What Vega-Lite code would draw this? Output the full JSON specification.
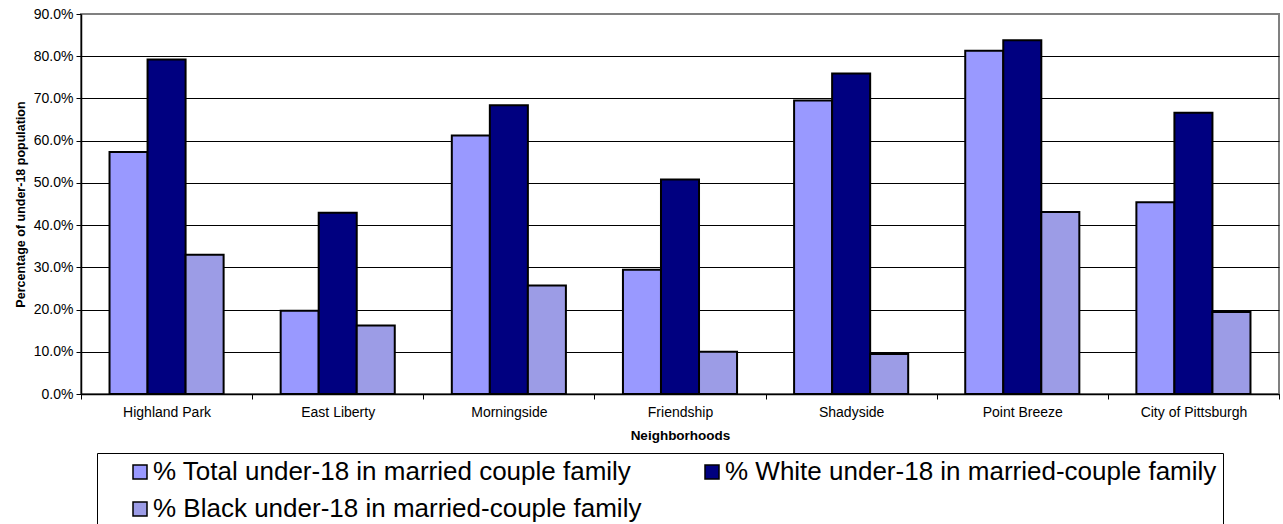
{
  "$schema": "https://vega.github.io/schema/vega-lite/v6.json",
  "width": 1198,
  "height": 380,
  "autosize": {"type": "none"},
  "padding": {"left": 81, "top": 14, "right": 4, "bottom": 130},
  "background": "white",
  "config": {
    "font": "Liberation Sans",
    "view": {"stroke": "#808080", "strokeWidth": 2}
  },
  "data": {
    "values": [
      {"neighborhood": "Highland Park", "series": "% Total under-18 in married couple family", "value": 0.573},
      {"neighborhood": "Highland Park", "series": "% White under-18 in married-couple family", "value": 0.792},
      {"neighborhood": "Highland Park", "series": "% Black under-18 in married-couple family", "value": 0.330},
      {"neighborhood": "East Liberty", "series": "% Total under-18 in married couple family", "value": 0.197},
      {"neighborhood": "East Liberty", "series": "% White under-18 in married-couple family", "value": 0.429},
      {"neighborhood": "East Liberty", "series": "% Black under-18 in married-couple family", "value": 0.162},
      {"neighborhood": "Morningside", "series": "% Total under-18 in married couple family", "value": 0.612},
      {"neighborhood": "Morningside", "series": "% White under-18 in married-couple family", "value": 0.684},
      {"neighborhood": "Morningside", "series": "% Black under-18 in married-couple family", "value": 0.257},
      {"neighborhood": "Friendship", "series": "% Total under-18 in married couple family", "value": 0.294},
      {"neighborhood": "Friendship", "series": "% White under-18 in married-couple family", "value": 0.508},
      {"neighborhood": "Friendship", "series": "% Black under-18 in married-couple family", "value": 0.100},
      {"neighborhood": "Shadyside", "series": "% Total under-18 in married couple family", "value": 0.695},
      {"neighborhood": "Shadyside", "series": "% White under-18 in married-couple family", "value": 0.759},
      {"neighborhood": "Shadyside", "series": "% Black under-18 in married-couple family", "value": 0.095},
      {"neighborhood": "Point Breeze", "series": "% Total under-18 in married couple family", "value": 0.813},
      {"neighborhood": "Point Breeze", "series": "% White under-18 in married-couple family", "value": 0.838},
      {"neighborhood": "Point Breeze", "series": "% Black under-18 in married-couple family", "value": 0.431},
      {"neighborhood": "City of Pittsburgh", "series": "% Total under-18 in married couple family", "value": 0.454},
      {"neighborhood": "City of Pittsburgh", "series": "% White under-18 in married-couple family", "value": 0.666},
      {"neighborhood": "City of Pittsburgh", "series": "% Black under-18 in married-couple family", "value": 0.194}
    ]
  },
  "mark": {"type": "bar", "stroke": "black", "strokeWidth": 2},
  "encoding": {
    "x": {
      "field": "neighborhood",
      "type": "nominal",
      "sort": ["Highland Park", "East Liberty", "Morningside", "Friendship", "Shadyside", "Point Breeze", "City of Pittsburgh"],
      "scale": {"paddingInner": 0, "paddingOuter": 0},
      "axis": {
        "title": "Neighborhoods",
        "labelAngle": 0,
        "labelFontSize": 14,
        "labelColor": "black",
        "titleFontSize": 13.5,
        "titleFontWeight": "bold",
        "titleColor": "black",
        "domainColor": "black",
        "domainWidth": 1.5,
        "tickColor": "black",
        "tickSize": 5,
        "tickBand": "extent",
        "labelPadding": 6,
        "titlePadding": 9,
        "grid": false
      }
    },
    "xOffset": {
      "field": "series",
      "type": "nominal",
      "sort": ["% Total under-18 in married couple family", "% White under-18 in married-couple family", "% Black under-18 in married-couple family"],
      "scale": {"paddingInner": 0, "paddingOuter": 0.75}
    },
    "y": {
      "field": "value",
      "type": "quantitative",
      "scale": {"domain": [0, 0.9], "nice": false},
      "axis": {
        "title": "Percentage of under-18 population",
        "format": ".1%",
        "values": [0, 0.1, 0.2, 0.3, 0.4, 0.5, 0.6, 0.7, 0.8, 0.9],
        "labelFontSize": 14,
        "labelColor": "black",
        "titleFontSize": 12.5,
        "titleFontWeight": "bold",
        "titleColor": "black",
        "titlePadding": 6,
        "domainColor": "black",
        "domainWidth": 1.5,
        "tickColor": "black",
        "tickSize": 5,
        "labelPadding": 3,
        "gridColor": "black",
        "gridWidth": 1,
        "gridOpacity": {"condition": {"test": "datum.value >= 0.85", "value": 0}, "value": 1}
      }
    },
    "color": {
      "field": "series",
      "type": "nominal",
      "scale": {
        "domain": ["% Total under-18 in married couple family", "% Black under-18 in married-couple family", "% White under-18 in married-couple family"],
        "range": ["#9999ff", "#9c9ce6", "#000080"]
      },
      "legend": {
        "orient": "none",
        "legendX": 16,
        "legendY": 439,
        "columns": 2,
        "title": null,
        "symbolType": "square",
        "symbolSize": 196,
        "symbolStrokeColor": "black",
        "symbolStrokeWidth": 1.5,
        "labelFontSize": 26,
        "labelColor": "black",
        "labelLimit": 800,
        "labelOffset": 0,
        "columnPadding": 33,
        "rowPadding": 11,
        "strokeColor": "black",
        "padding": 6,
        "symbolOffset": 24
      }
    }
  }
}
